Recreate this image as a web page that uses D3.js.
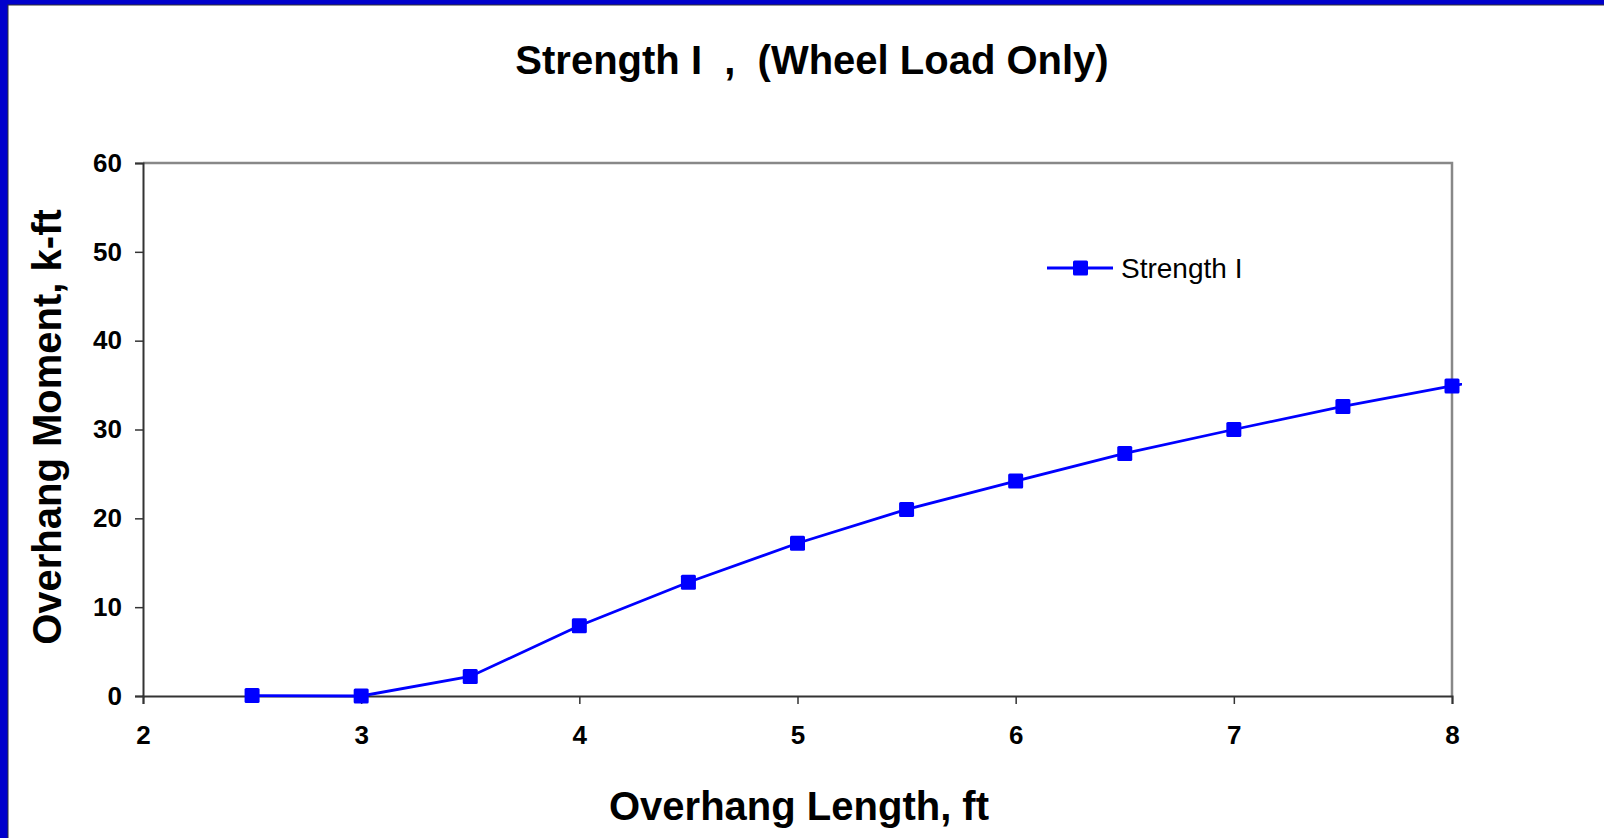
<!DOCTYPE html>
<html>
<head>
<meta charset="utf-8">
<script src="https://cdn.jsdelivr.net/npm/d3@7"></script>
<style>
  body { margin: 0; background: #fff; }
  text { font-family: "Liberation Sans", Arial, sans-serif; }
</style>
</head>
<body>
<svg id="chart" width="1604" height="838"></svg>
<script>
// overhang length (ft) and factored moment (k-ft)
var lengths = [2.5, 3, 3.5, 4, 4.5, 5, 5.5, 6, 6.5, 7, 7.5, 8, 8.5];
var moments = [0.05, 0, 2.2, 7.9, 12.8, 17.2, 21.0, 24.2, 27.3, 30.0, 32.6, 34.9, 37.1];
var xTicks = [2, 3, 4, 5, 6, 7, 8];
var yTicks = [0, 10, 20, 30, 40, 50, 60];
var seriesName = "Strength I";

var svg = d3.select("#chart");

// blue frame on left and top
svg.append("rect").attr("x", 0).attr("y", 0).attr("width", 1604).attr("height", 838).attr("fill", "#0000cc");
svg.append("rect").attr("x", 8).attr("y", 5).attr("width", 1604).attr("height", 838)
  .attr("fill", "#fff").attr("stroke", "#333").attr("stroke-width", 1);

var pL = 143, pR = 1452, pT = 163, pB = 696;

var x = d3.scaleLinear().domain([2, 8]).range([pL, pR]);
var y = d3.scaleLinear().domain([0, 60]).range([pB, pT]);

// plot frame: top/right gray
svg.append("path")
  .attr("d", "M" + pL + "," + pT + "H" + pR + "V" + pB)
  .attr("fill", "none").attr("stroke", "#888").attr("stroke-width", 2.5);

var yAxis = svg.append("g").attr("transform", "translate(" + pL + ",0)")
  .call(d3.axisLeft(y).tickValues(yTicks).tickFormat(d3.format("d")).tickSize(8).tickPadding(13));
var xAxis = svg.append("g").attr("transform", "translate(0," + pB + ")")
  .call(d3.axisBottom(x).tickValues(xTicks).tickFormat(d3.format("d")).tickSize(8).tickPadding(22));

[xAxis, yAxis].forEach(function(a) {
  a.select(".domain").attr("stroke", "#333").attr("stroke-width", 2);
  a.selectAll(".tick line").attr("stroke", "#333").attr("stroke-width", 1.5);
  a.selectAll(".tick text").attr("fill", "#000").style("font-size", "26px")
    .style("font-weight", "bold").style("font-family", "'Liberation Sans', Arial, sans-serif");
});

// series
var pts = lengths.map(function(l, i) { return [l, moments[i]]; });

svg.append("clipPath").attr("id", "clip")
  .append("rect").attr("x", pL).attr("y", pT - 10).attr("width", pR - pL + 10).attr("height", pB - pT + 20);

svg.append("path")
  .datum(pts)
  .attr("clip-path", "url(#clip)")
  .attr("fill", "none")
  .attr("stroke", "#0000ff")
  .attr("stroke-width", 2.8)
  .attr("d", d3.line().x(function(d) { return x(d[0]); }).y(function(d) { return y(d[1]); }));

svg.selectAll("rect.mk")
  .data(pts.filter(function(d) { return d[0] <= 8; }))
  .enter().append("rect")
  .attr("class", "mk")
  .attr("x", function(d) { return x(d[0]) - 7.5; })
  .attr("y", function(d) { return y(d[1]) - 7.5; })
  .attr("width", 15).attr("height", 15).attr("rx", 1.5)
  .attr("fill", "#0000ff");

// legend
var lg = svg.append("g").attr("transform", "translate(1047,268)");
lg.append("line").attr("x1", 0).attr("x2", 66).attr("y1", 0).attr("y2", 0)
  .attr("stroke", "#0000ff").attr("stroke-width", 2.8);
lg.append("rect").attr("x", 26).attr("y", -7.5).attr("width", 15).attr("height", 15).attr("rx", 1.5).attr("fill", "#0000ff");
lg.append("text").attr("x", 74).attr("y", 10).style("font-size", "28px").attr("fill", "#000").text(seriesName);

// titles
svg.append("text").attr("x", 812).attr("y", 74).attr("text-anchor", "middle")
  .style("font-size", "40px").style("font-weight", "bold").attr("fill", "#000")
  .attr("xml:space", "preserve")
  .text("Strength I  ,  (Wheel Load Only)");

svg.append("text").attr("x", 799).attr("y", 820).attr("text-anchor", "middle")
  .style("font-size", "40px").style("font-weight", "bold").attr("fill", "#000")
  .text("Overhang Length, ft");

svg.append("text").attr("transform", "translate(61,427) rotate(-90)").attr("text-anchor", "middle")
  .style("font-size", "40px").style("font-weight", "bold").attr("fill", "#000")
  .text("Overhang Moment, k-ft");
</script>
</body>
</html>
